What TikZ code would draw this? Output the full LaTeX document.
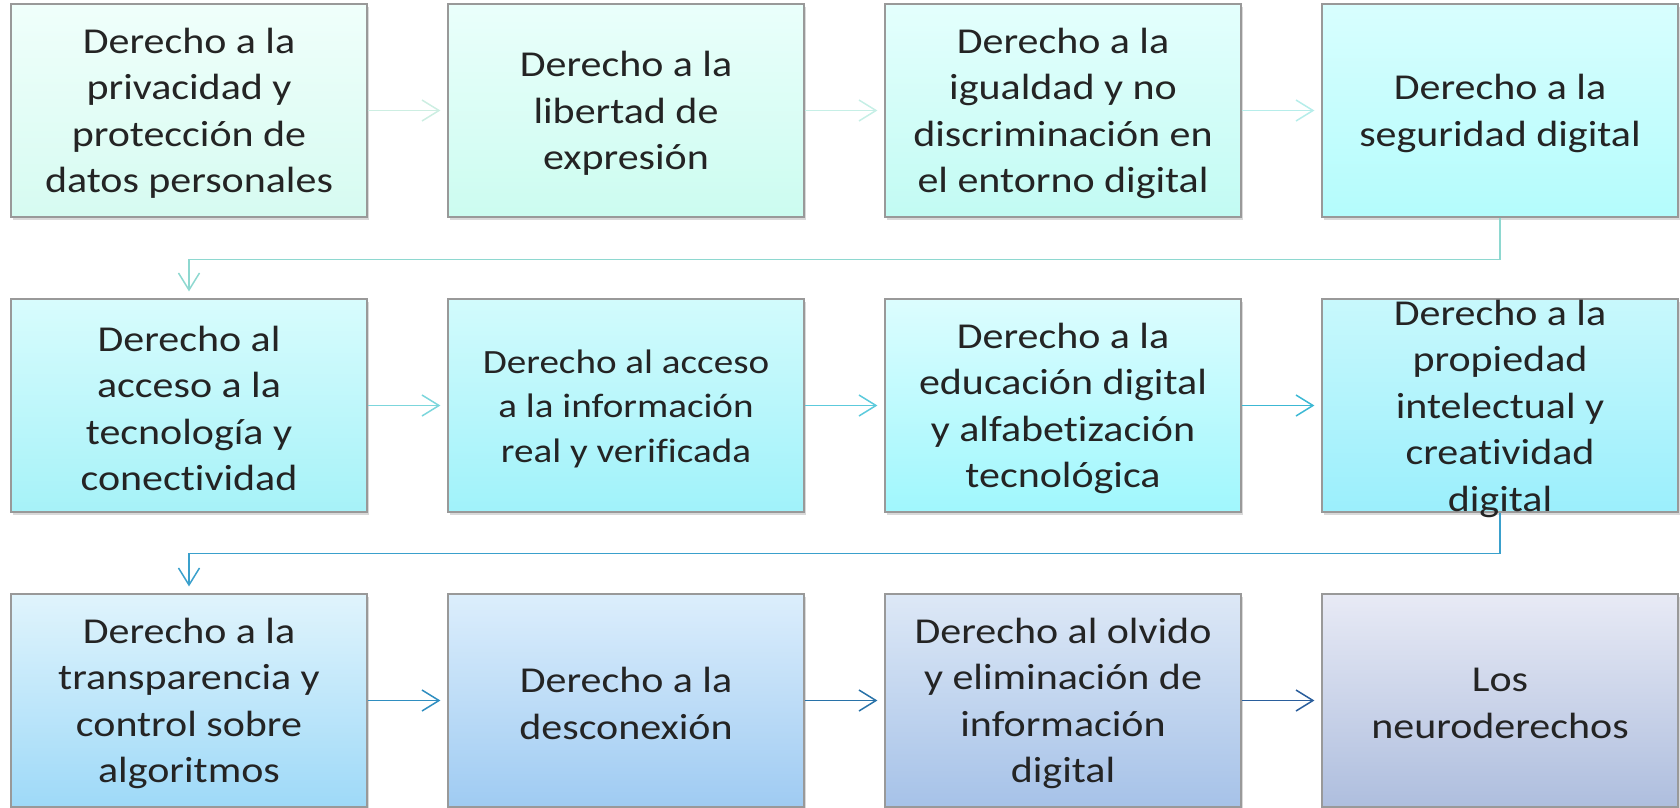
\documentclass[tikz,border=0pt]{standalone}
\usepackage{fontspec}
\setmainfont{Carlito}[FakeStretch=1.15,Ligatures=NoCommon]
\usepackage{xcolor}
\usetikzlibrary{arrows.meta,shadows}

% box colours (top / bottom)
\definecolor{aT}{HTML}{F0FFFB}\definecolor{aB}{HTML}{D6FBF1}
\definecolor{bT}{HTML}{EAFFFB}\definecolor{bB}{HTML}{CCFCF0}
\definecolor{cT}{HTML}{E4FFFD}\definecolor{cB}{HTML}{C2FBF3}
\definecolor{dT}{HTML}{D8FEFE}\definecolor{dB}{HTML}{B4FCFC}
\definecolor{eT}{HTML}{D8FCFD}\definecolor{eB}{HTML}{A6F2F8}
\definecolor{fT}{HTML}{D2FBFC}\definecolor{fB}{HTML}{A0F2FA}
\definecolor{gT}{HTML}{DCFDFE}\definecolor{gB}{HTML}{A0F7FD}
\definecolor{hT}{HTML}{C8F8FC}\definecolor{hB}{HTML}{9BEFFC}
\definecolor{iT}{HTML}{E0F4FC}\definecolor{iB}{HTML}{9ED9F8}
\definecolor{jT}{HTML}{DCEEFC}\definecolor{jB}{HTML}{9FCBF2}
\definecolor{kT}{HTML}{DDE8F6}\definecolor{kB}{HTML}{A6C2E8}
\definecolor{lT}{HTML}{E8EAF5}\definecolor{lB}{HTML}{AEBEDE}
% connector colours
\definecolor{f1}{HTML}{CDEEE2}\definecolor{f2}{HTML}{C6EFE6}
\definecolor{f3}{HTML}{B6EDEA}\definecolor{f4}{HTML}{8ED8D0}
\definecolor{f5}{HTML}{7CD6DC}\definecolor{f6}{HTML}{5CCADC}
\definecolor{f7}{HTML}{3CB8D4}\definecolor{f8}{HTML}{3AA0CC}
\definecolor{f9}{HTML}{2F8EC0}\definecolor{f10}{HTML}{2872A8}
\definecolor{f11}{HTML}{2A5E9C}

\begin{document}
\begin{tikzpicture}[x=1pt,y=-1pt,
    derecho/.style={draw=gray!80,line width=1.2pt,minimum width=356pt,minimum height=213pt,
        inner sep=0pt,drop shadow={opacity=0.3,shadow xshift=2pt,shadow yshift=-2.5pt}},
    texto/.style={align=center,text=black!86,yshift=-3pt,font=\fontsize{36.5}{46.5}\selectfont},
    flecha/.style={line width=1.5pt,-{Straight Barb[length=17pt,width=21pt]},shorten >=7pt}]
    %
    \useasboundingbox (0,0) rectangle (1680,807);
    %
    \node[derecho,top color=aT,bottom color=aB] (d1) at (189,110.5) {};
    \node[derecho,top color=bT,bottom color=bB] (d2) at (626,110.5) {};
    \node[derecho,top color=cT,bottom color=cB] (d3) at (1063,110.5) {};
    \node[derecho,top color=dT,bottom color=dB] (d4) at (1500,110.5) {};

    \node[derecho,top color=eT,bottom color=eB] (d5) at (189,405.5) {};
    \node[derecho,top color=fT,bottom color=fB] (d6) at (626,405.5) {};
    \node[derecho,top color=gT,bottom color=gB] (d7) at (1063,405.5) {};
    \node[derecho,top color=hT,bottom color=hB] (d8) at (1500,405.5) {};

    \node[derecho,top color=iT,bottom color=iB] (d9) at (189,700.5) {};
    \node[derecho,top color=jT,bottom color=jB] (d10) at (626,700.5) {};
    \node[derecho,top color=kT,bottom color=kB] (d11) at (1063,700.5) {};
    \node[derecho,top color=lT,bottom color=lB] (d12) at (1500,700.5) {};
    %
    \node[texto] at (d1) {Derecho a la\\privacidad y\\protección de\\datos personales};
    \node[texto] at (d2) {Derecho a la\\libertad de\\expresión};
    \node[texto] at (d3) {Derecho a la\\igualdad y no\\discriminación en\\el entorno digital};
    \node[texto] at (d4) {Derecho a la\\seguridad digital};

    \node[texto] at (d5) {Derecho al\\acceso a la\\tecnología y\\conectividad};
    \node[texto,font=\fontsize{34}{44.5}\selectfont] at (d6) {Derecho al acceso\\a la información\\real y verificada};
    \node[texto] at (d7) {Derecho a la\\educación digital\\y alfabetización\\tecnológica};
    \node[texto] at (d8) {Derecho a la\\propiedad\\intelectual y\\creatividad\\digital};

    \node[texto] at (d9) {Derecho a la\\transparencia y\\control sobre\\algoritmos};
    \node[texto] at (d10) {Derecho a la\\desconexión};
    \node[texto] at (d11) {Derecho al olvido\\y eliminación de\\información\\digital};
    \node[texto] at (d12) {Los\\neuroderechos};
    %
    \draw[flecha,f1] (d1) -- (d2);
    \draw[flecha,f2] (d2) -- (d3);
    \draw[flecha,f3] (d3) -- (d4);
    \draw[flecha,f4] (d4.south) -- ++(0,42) -| (d5.north);

    \draw[flecha,f5] (d5) -- (d6);
    \draw[flecha,f6] (d6) -- (d7);
    \draw[flecha,f7] (d7) -- (d8);
    \draw[flecha,f8] (d8.south) -- ++(0,41) -| (d9.north);

    \draw[flecha,f9] (d9) -- (d10);
    \draw[flecha,f10] (d10) -- (d11);
    \draw[flecha,f11] (d11) -- (d12);
    %
\end{tikzpicture}
\end{document}
